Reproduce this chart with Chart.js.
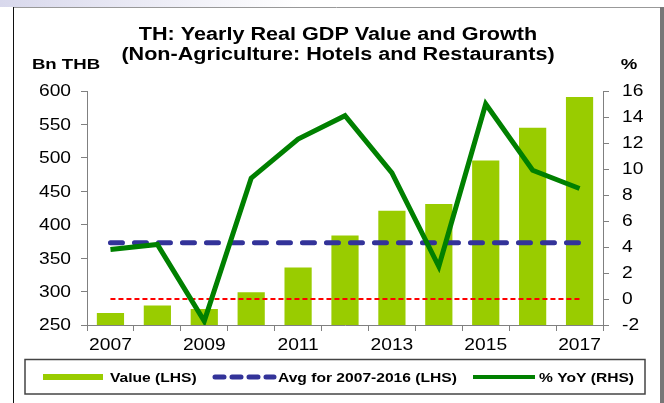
<!DOCTYPE html>
<html>
<head>
<meta charset="utf-8">
<script src="https://cdn.jsdelivr.net/npm/chart.js@4/dist/chart.umd.min.js"></script>
<style>
  html, body { margin: 0; padding: 0; background: #fff; }
  #wrap { width: 664px; height: 403px; position: relative; }
</style>
</head>
<body>
<div id="wrap"><canvas id="grafica" width="664" height="403"></canvas></div>
<script>
// Datos
const years = ['2007', '2008', '2009', '2010', '2011', '2012', '2013', '2014', '2015', '2016', '2017'];
const valueLHS = [268, 279, 274, 299, 336, 384, 421, 431, 496, 545, 591];
const yoyRHS = [3.8, 4.2, -1.7, 9.3, 12.3, 14.1, 9.7, 2.5, 15.0, 9.9, 8.5];
const avgValue = 373; // promedio 2007-2016
const leftTicks = [250, 300, 350, 400, 450, 500, 550, 600];
const rightTicks = [-2, 0, 2, 4, 6, 8, 10, 12, 14, 16];

const FONT = '"Liberation Sans", Arial, sans-serif';
const SX = 1.2; // el texto del original esta estirado a lo ancho

// texto estirado horizontalmente
function texto(c, str, x, y, font, align) {
    c.save();
    c.font = font;
    c.textAlign = align || 'center';
    c.textBaseline = 'middle';
    c.translate(x, y);
    c.scale(SX, 1);
    c.fillText(str, 0, 0);
    c.restore();
}

// Titulos, etiquetas de ejes, leyenda y marco
const extras = {
    id: 'extras',
    beforeDraw(chart) {
        const c = chart.ctx;
        c.save();
        const g = c.createLinearGradient(0, 0, 300, 0);
        g.addColorStop(0, '#d8d8ec');
        g.addColorStop(1, '#ffffff');
        c.fillStyle = g;
        c.fillRect(0, 0, 300, 7);
        c.restore();
    },
    afterDraw(chart) {
        const c = chart.ctx;
        c.save();
        // marco exterior
        c.strokeStyle = '#999';
        c.lineWidth = 1;
        c.beginPath();
        c.moveTo(13, 7.5);
        c.lineTo(660, 7.5);
        c.stroke();
        c.strokeStyle = '#111';
        c.beginPath();
        c.moveTo(13.5, 7);
        c.lineTo(13.5, 403);
        c.stroke();
        c.fillStyle = '#777';
        c.fillRect(660, 7, 4, 396);

        c.fillStyle = '#000';
        texto(c, 'TH: Yearly Real GDP Value and Growth', 338, 35, 'bold 18px ' + FONT);
        texto(c, '(Non-Agriculture: Hotels and Restaurants)', 338, 55, 'bold 18px ' + FONT);
        texto(c, 'Bn THB', 66, 65, 'bold 15.5px ' + FONT);
        texto(c, '%', 629, 65, 'bold 15.5px ' + FONT);

        // etiquetas de los ejes, tomadas de las escalas
        const tf = '16px ' + FONT;
        const sx = chart.scales.x, sy = chart.scales.y, sy2 = chart.scales.y2;
        sy.ticks.forEach(t => texto(c, String(t.value), sx.left - 16, sy.getPixelForValue(t.value) + 1, tf, 'right'));
        sy2.ticks.forEach(t => texto(c, String(t.value), sx.right + 19, sy2.getPixelForValue(t.value) + 1, tf, 'left'));
        years.forEach((y, i) => {
            if (i % 2 === 0) texto(c, y, sx.getPixelForTick(i), 346, tf);
        });

        // leyenda
        c.strokeStyle = '#444';
        c.lineWidth = 1.5;
        c.strokeRect(25, 359.5, 620, 34.5);
        const ly = 377;
        c.fillStyle = '#99CC00';
        c.fillRect(43, ly - 3, 60, 6);
        c.strokeStyle = '#333399';
        c.lineWidth = 5;
        c.lineCap = 'round';
        c.setLineDash([9, 8]);
        c.beginPath();
        c.moveTo(215, ly);
        c.lineTo(274, ly);
        c.stroke();
        c.setLineDash([]);
        c.lineCap = 'butt';
        c.strokeStyle = '#008000';
        c.lineWidth = 4;
        c.beginPath();
        c.moveTo(473, ly);
        c.lineTo(535, ly);
        c.stroke();
        c.fillStyle = '#000';
        const lf = 'bold 13px ' + FONT;
        texto(c, 'Value (LHS)', 110, ly + 1, lf, 'left');
        texto(c, 'Avg for 2007-2016 (LHS)', 278, ly + 1, lf, 'left');
        texto(c, '% YoY (RHS)', 539, ly + 1, lf, 'left');
        c.restore();
    }
};

const ctx = document.getElementById('grafica').getContext('2d');
new Chart(ctx, {
    type: 'bar',
    data: {
        labels: years,
        datasets: [
            {
                type: 'line',
                label: '% YoY (RHS)',
                data: yoyRHS,
                yAxisID: 'y2',
                borderColor: '#008000',
                borderWidth: 5,
                pointRadius: 0,
                tension: 0,
                order: 0
            },
            {
                type: 'line',
                label: 'Avg for 2007-2016 (LHS)',
                data: years.map(() => avgValue),
                yAxisID: 'y',
                borderColor: '#333399',
                borderWidth: 5,
                borderDash: [12, 12],
                borderCapStyle: 'round',
                pointRadius: 0,
                order: 1
            },
            {
                type: 'line',
                label: 'zero',
                data: years.map(() => 0),
                yAxisID: 'y2',
                borderColor: '#FF0000',
                borderWidth: 2,
                borderDash: [5, 3],
                pointRadius: 0,
                order: 2
            },
            {
                label: 'Value (LHS)',
                data: valueLHS,
                yAxisID: 'y',
                backgroundColor: '#99CC00',
                categoryPercentage: 1,
                barPercentage: 0.58,
                order: 3
            }
        ]
    },
    options: {
        responsive: false,
        animation: false,
        layout: { padding: { left: 20, right: 18, top: 91, bottom: 48 } },
        plugins: {
            legend: { display: false },
            title: { display: false },
            tooltip: { enabled: false }
        },
        scales: {
            x: {
                offset: true,
                grid: { display: true, drawOnChartArea: false, offset: true, tickLength: 6, color: '#808080' },
                border: { color: '#808080', width: 1 },
                ticks: { display: false, autoSkip: false },
                afterFit: (s) => { s.height = 30; }
            },
            y: {
                position: 'left',
                min: 250,
                max: 600,
                afterBuildTicks: (s) => { s.ticks = leftTicks.map(v => ({ value: v })); },
                grid: { display: true, drawOnChartArea: false, tickLength: 6, color: '#808080' },
                border: { color: '#808080', width: 1 },
                ticks: { display: false },
                afterFit: (s) => { s.width = 67; }
            },
            y2: {
                position: 'right',
                min: -2,
                max: 16,
                afterBuildTicks: (s) => { s.ticks = rightTicks.map(v => ({ value: v })); },
                grid: { display: true, drawOnChartArea: false, tickLength: 6, color: '#808080' },
                border: { color: '#808080', width: 1 },
                ticks: { display: false },
                afterFit: (s) => { s.width = 43; }
            }
        }
    },
    plugins: [extras]
});
</script>
</body>
</html>
